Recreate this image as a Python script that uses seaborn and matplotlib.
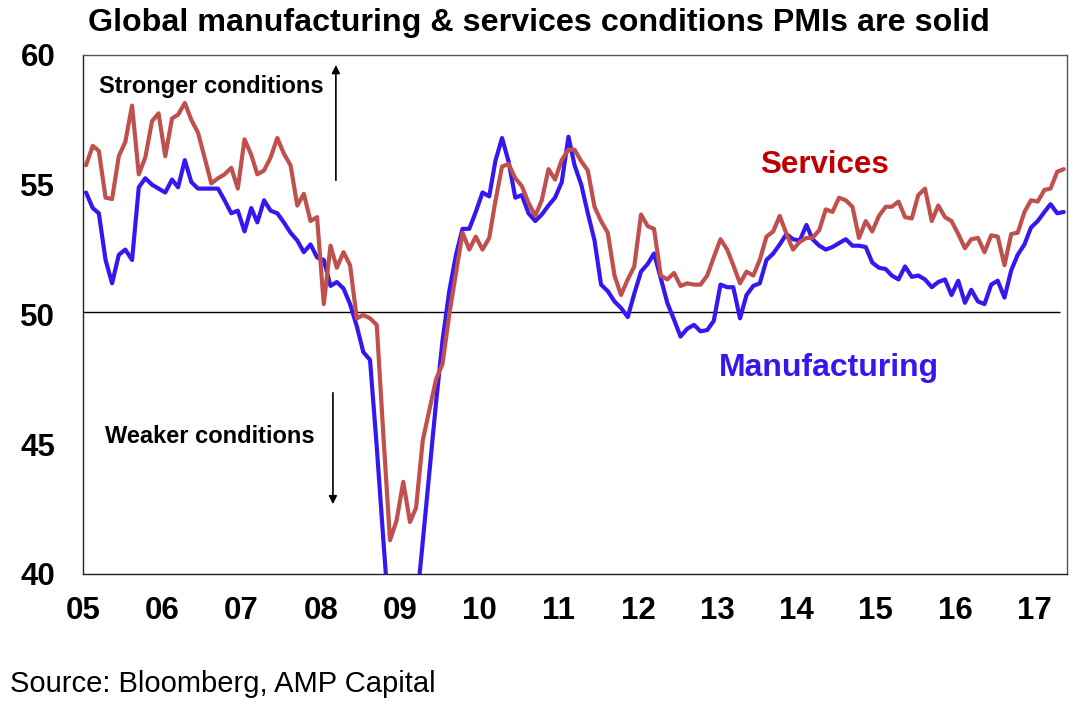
import numpy as np
import pandas as pd
import matplotlib
matplotlib.use("Agg")
import matplotlib.pyplot as plt
import matplotlib.dates as mdates
import seaborn as sns

# ---------------- data (monthly, Jan 2005 - May 2017) ----------------
start_month = "2005-01-01"
n_months = 149

manufacturing = [
    # 2005
    54.7, 54.1, 53.9, 52.1, 51.2, 52.3, 52.5, 52.1, 54.9, 55.25, 55.0, 54.85,
    # 2006
    54.7, 55.2, 54.9, 55.95, 55.1, 54.85, 54.85, 54.85, 54.85, 54.4, 53.9, 54.0,
    # 2007
    53.2, 54.1, 53.55, 54.4, 54.0, 53.9, 53.55, 53.15, 52.85, 52.4, 52.7, 52.2,
    # 2008
    52.1, 51.1, 51.25, 51.0, 50.4, 49.55, 48.55, 48.25, 44.9, 41.35, 37.8, 34.5,
    # 2009
    34.8, 35.5, 38.6, 41.25, 43.9, 46.6, 49.0, 50.9, 52.3, 53.3, 53.3, 53.95,
    # 2010
    54.7, 54.55, 55.9, 56.8, 55.9, 54.5, 54.6, 53.9, 53.6, 53.85, 54.2, 54.5,
    # 2011
    55.1, 56.85, 55.75, 55.0, 53.9, 52.85, 51.15, 50.9, 50.5, 50.25, 49.9, 50.8,
    # 2012
    51.65, 51.95, 52.35, 51.4, 50.45, 49.8, 49.15, 49.45, 49.6, 49.35, 49.4, 49.75,
    # 2013
    51.15, 51.05, 51.05, 49.85, 50.75, 51.1, 51.2, 52.1, 52.35, 52.7, 53.1, 52.9,
    # 2014
    52.85, 53.45, 52.9, 52.65, 52.5, 52.6, 52.75, 52.9, 52.65, 52.65, 52.6, 52.0,
    # 2015
    51.8, 51.75, 51.5, 51.35, 51.85, 51.45, 51.5, 51.35, 51.05, 51.25, 51.35, 50.75,
    # 2016
    51.3, 50.45, 50.95, 50.5, 50.4, 51.15, 51.3, 50.65, 51.7, 52.3, 52.7, 53.35,
    # 2017
    53.6, 53.95, 54.25, 53.9, 53.95,
]

services = [
    # 2005
    55.75, 56.5, 56.3, 54.5, 54.45, 56.1, 56.65, 58.05, 55.4, 56.05, 57.45, 57.75,
    # 2006
    56.1, 57.55, 57.7, 58.15, 57.5, 57.0, 56.05, 55.05, 55.25, 55.4, 55.65, 54.85,
    # 2007
    56.75, 56.15, 55.4, 55.55, 56.05, 56.8, 56.2, 55.75, 54.2, 54.65, 53.6, 53.75,
    # 2008
    50.4, 52.65, 51.8, 52.4, 51.9, 49.85, 49.98, 49.85, 49.6, 45.4, 41.3, 42.05,
    # 2009
    43.55, 42.0, 42.55, 45.15, 46.3, 47.5, 48.1, 50.0, 51.6, 53.15, 52.5, 53.0,
    # 2010
    52.5, 52.95, 54.35, 55.7, 55.8, 55.25, 54.95, 54.3, 53.8, 54.4, 55.6, 55.2,
    # 2011
    55.95, 56.35, 56.35, 55.9, 55.55, 54.15, 53.6, 53.15, 51.5, 50.75, 51.35, 51.85,
    # 2012
    53.85, 53.4, 53.3, 51.5, 51.35, 51.6, 51.1, 51.2, 51.15, 51.15, 51.5, 52.2,
    # 2013
    52.9, 52.5, 51.9, 51.2, 51.65, 51.5, 52.1, 53.0, 53.2, 53.8, 53.1, 52.5,
    # 2014
    52.8, 52.95, 52.95, 53.25, 54.05, 53.95, 54.5, 54.4, 54.15, 52.95, 53.6, 53.2,
    # 2015
    53.8, 54.15, 54.15, 54.35, 53.75, 53.7, 54.6, 54.85, 53.6, 54.2, 53.75, 53.6,
    # 2016
    53.1, 52.55, 52.9, 52.95, 52.4, 53.05, 53.0, 51.9, 53.1, 53.15, 53.95, 54.4,
    # 2017
    54.35, 54.8, 54.85, 55.5, 55.6,
]

y_ticks = [40, 45, 50, 55, 60]
neutral_level = 50.1

title = "Global manufacturing & services conditions PMIs are solid"
source = "Source: Bloomberg, AMP Capital"

# ---------------- frame ----------------
dates = pd.date_range(start_month, periods=n_months, freq="MS") + pd.Timedelta(days=14)
df = pd.DataFrame({"date": dates, "Manufacturing": manufacturing, "Services": services})
long = df.melt(id_vars="date", var_name="series", value_name="value")

sns.set_style("white")
plt.rcParams["font.family"] = ["Liberation Sans", "DejaVu Sans"]
plt.rcParams["text.color"] = "black"
plt.rcParams["xtick.color"] = "black"
plt.rcParams["ytick.color"] = "black"
plt.rcParams["axes.labelcolor"] = "black"

BLUE = "#3318F0"
RED = "#C0504D"

fig = plt.figure(figsize=(10.89, 7.13), dpi=100)
ax = fig.add_axes([0.0762, 0.195, 0.9036, 0.7279])

# neutral line
ax.hlines(neutral_level, pd.Timestamp("2005-01-01"), pd.Timestamp("2017-04-28"),
          color="black", lw=1.0, zorder=1)

sns.lineplot(data=long, x="date", y="value", hue="series",
             hue_order=["Manufacturing", "Services"],
             palette={"Manufacturing": BLUE, "Services": RED},
             linewidth=3.0, legend=False, ax=ax, zorder=3)

ax.set_xlim(pd.Timestamp("2005-01-01"), pd.Timestamp("2017-05-30"))
ax.set_ylim(40, 60)
ax.set_yticks(y_ticks)
ax.xaxis.set_major_locator(mdates.YearLocator())
ax.xaxis.set_major_formatter(mdates.DateFormatter("%y"))
ax.set_xlabel("")
ax.set_ylabel("")

ax.tick_params(axis="both", direction="out", length=7, width=1.0, color="black",
               labelcolor="black", labelsize=22.5)
ax.tick_params(axis="y", pad=13)
ax.tick_params(axis="x", pad=9)
for lab in ax.get_xticklabels() + ax.get_yticklabels():
    lab.set_fontweight("bold")

for side in ["left", "bottom", "right", "top"]:
    ax.spines[side].set_visible(True)
    ax.spines[side].set_color("#222222")
    ax.spines[side].set_linewidth(1.0)
ax.spines["top"].set_color("#555555")
ax.spines["right"].set_color("#555555")

# annotations
ax.text(0.0163, 0.9274, "Stronger conditions", transform=ax.transAxes,
        fontsize=17, fontweight="bold", ha="left", va="baseline", color="black")
ax.text(0.0224, 0.253, "Weaker conditions", transform=ax.transAxes,
        fontsize=17, fontweight="bold", ha="left", va="baseline", color="black")
ax.annotate("", xy=(0.257, 0.986), xytext=(0.257, 0.753), xycoords="axes fraction",
            arrowprops=dict(arrowstyle="-|>", color="black", lw=1.2, mutation_scale=12))
ax.annotate("", xy=(0.254, 0.129), xytext=(0.254, 0.3545), xycoords="axes fraction",
            arrowprops=dict(arrowstyle="-|>", color="black", lw=1.2, mutation_scale=12))

ax.text(0.688, 0.772, "Services", transform=ax.transAxes, color="#C00000",
        fontsize=22.5, fontweight="bold", ha="left", va="baseline")
ax.text(0.6466, 0.3815, "Manufacturing", transform=ax.transAxes, color=BLUE,
        fontsize=23, fontweight="bold", ha="left", va="baseline")

fig.text(0.0810, 0.9572, title, fontsize=23.2, fontweight="bold",
         ha="left", va="baseline", color="black")
fig.text(0.0092, 0.030, source, fontsize=21, ha="left", va="baseline", color="black")

fig.savefig("out.png", dpi=100)
